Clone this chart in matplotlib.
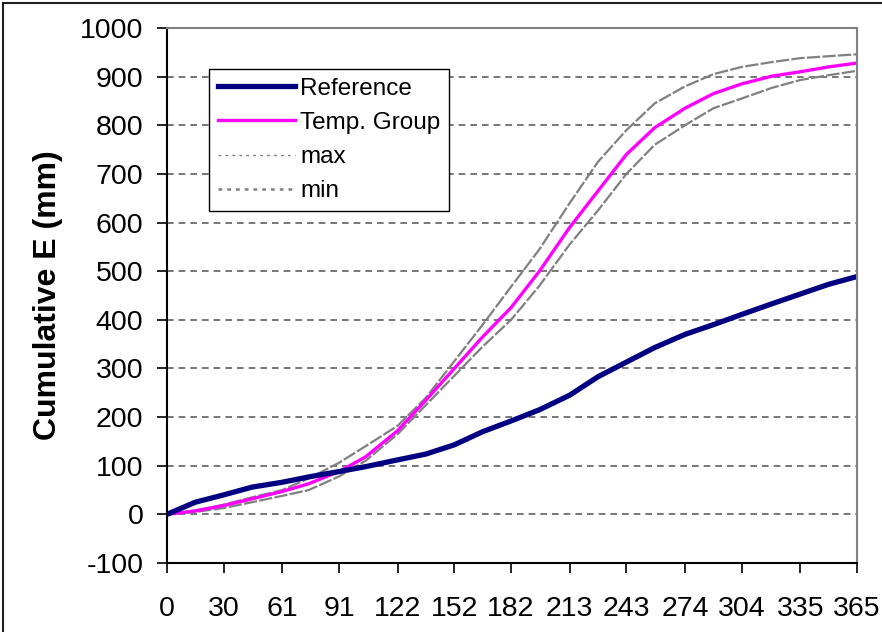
import numpy as np
import matplotlib
matplotlib.use("Agg")
import matplotlib.pyplot as plt
from matplotlib.lines import Line2D

plt.rcParams['font.family'] = ['Liberation Sans', 'DejaVu Sans']
plt.rcParams['axes.unicode_minus'] = False

# days of year where values were read
days = [0, 15, 30, 45, 61, 75, 91, 105, 122, 137, 152, 167, 182,
        197, 213, 228, 243, 258, 274, 289, 304, 320, 335, 350, 365]

reference = [0, 25, 40, 56, 66, 77, 88, 98, 112, 124, 143, 170, 192,
             215, 245, 283, 313, 343, 370, 390, 411, 433, 453, 473, 489]
temp_group = [0, 7, 18, 32, 47, 63, 88, 118, 172, 235, 300, 365, 425,
              500, 590, 665, 740, 795, 835, 865, 885, 901, 910, 920, 928]
max_vals = [0, 8, 20, 35, 50, 74, 106, 140, 182, 240, 315, 390, 468,
            545, 640, 725, 790, 845, 880, 905, 920, 930, 938, 942, 946]
min_vals = [0, 5, 13, 25, 38, 50, 78, 110, 165, 225, 285, 345, 400,
            470, 555, 625, 700, 760, 800, 835, 855, 877, 893, 903, 912]

xticks = [0, 30, 61, 91, 122, 152, 182, 213, 243, 274, 304, 335, 365]
yticks = list(range(-100, 1001, 100))

fig = plt.figure(figsize=(8.82, 6.32), dpi=100)
ax = fig.add_axes([0.1893, 0.1092, 0.7824, 0.8465])

ax.plot(days, max_vals, color='#808080', lw=1.6, ls=(0, (6, 1)))
ax.plot(days, min_vals, color='#808080', lw=1.6, ls=(0, (6, 1)))
ax.plot(days, temp_group, color='#ff00ff', lw=2.4)
ax.plot(days, reference, color='#000080', lw=3.8)

ax.set_xlim(0, 365)
ax.set_ylim(-100, 1000)
ax.set_xticks(xticks)
ax.set_xticklabels([str(t) for t in xticks])
ax.set_yticks(yticks)

ax.yaxis.grid(True, color='#606060', lw=1.2, ls=(0, (4, 3)))
ax.set_axisbelow(True)

for s in ['left', 'bottom']:
    ax.spines[s].set_color('black')
    ax.spines[s].set_linewidth(1.5)
for s in ['top', 'right']:
    ax.spines[s].set_color('#808080')
    ax.spines[s].set_linewidth(1.5)

ax.tick_params(axis='both', direction='out', length=7, width=1.2, labelsize=20.5)
ax.tick_params(axis='x', pad=17)
ax.tick_params(axis='y', pad=10)

ax.set_ylabel('Cumulative E (mm)', fontsize=23, fontweight='bold', labelpad=12)

handles = [
    Line2D([], [], color='#000080', lw=3.8),
    Line2D([], [], color='#ff00ff', lw=2.4),
    Line2D([], [], color='#808080', lw=1.0, ls=(0, (2, 3))),
    Line2D([], [], color='#808080', lw=1.8, ls=(0, (1.5, 2))),
]
leg = ax.legend(handles, ['Reference', 'Temp. Group', 'max', 'min'],
                loc='upper left', bbox_to_anchor=(0.061, 0.923), borderaxespad=0,
                fontsize=17.5, frameon=True, fancybox=False, framealpha=1,
                handlelength=3.2, handletextpad=0.2, labelspacing=0.5,
                borderpad=0.35)
leg.get_frame().set_edgecolor('black')
leg.get_frame().set_linewidth(1.0)

# outer chart border (only top and left visible)
fig.add_artist(Line2D([0.003, 0.003], [0, 0.995], transform=fig.transFigure,
                      color='#202020', lw=1.5))
fig.add_artist(Line2D([0.003, 1], [0.995, 0.995], transform=fig.transFigure,
                      color='#202020', lw=1.5))

fig.savefig('out.png', dpi=100)
